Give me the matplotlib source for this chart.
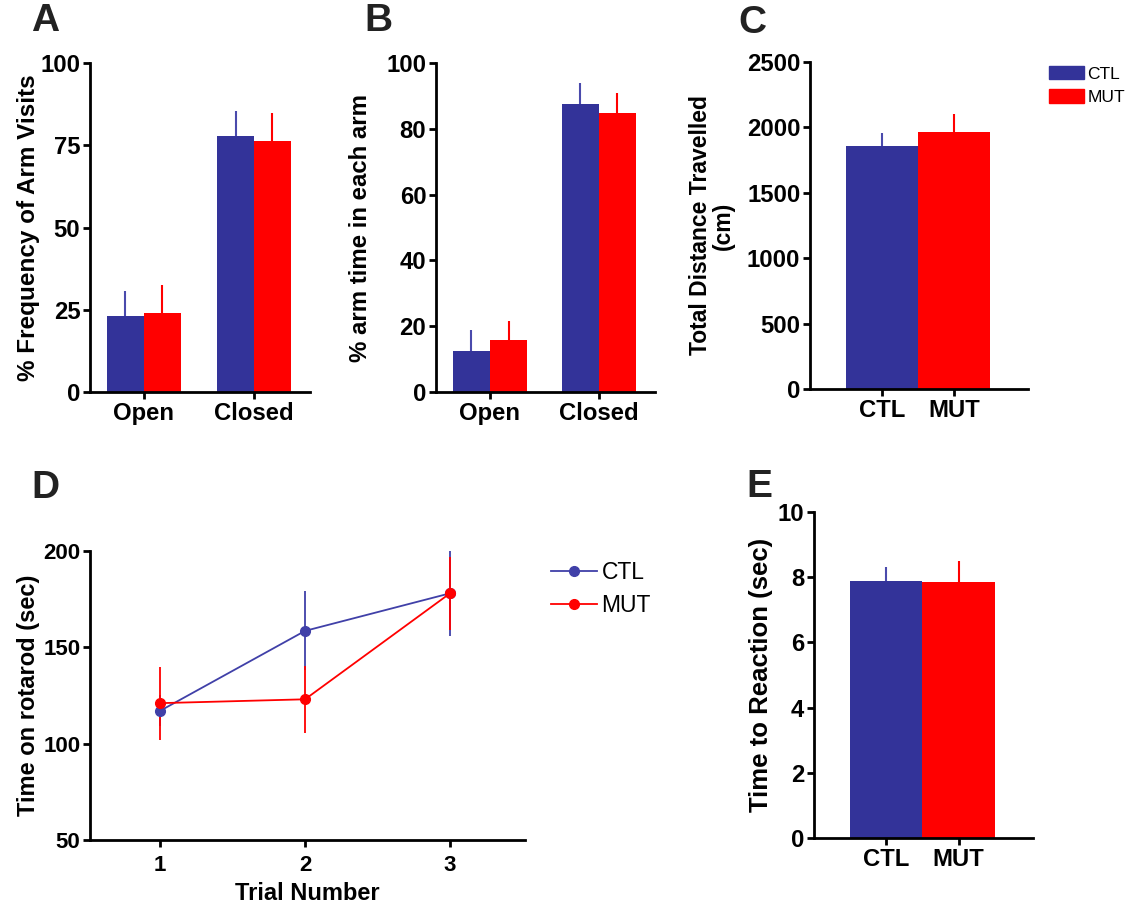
import numpy as np
import matplotlib.pyplot as plt
from matplotlib.patches import Patch
from matplotlib.lines import Line2D

plt.rcParams['font.family'] = ['Liberation Sans', 'DejaVu Sans']

BLUE = '#333399'
RED = '#ff0000'

# ---- data ----
groups = ['CTL', 'MUT']
arms = ['Open', 'Closed']

# A: % frequency of arm visits (mean, sem) per arm
freq_ctl = [23.0, 77.8]
freq_ctl_err = [7.7, 7.6]
freq_mut = [23.9, 76.4]
freq_mut_err = [8.6, 8.5]

# B: % arm time
time_ctl = [12.6, 87.6]
time_ctl_err = [6.4, 6.4]
time_mut = [15.7, 84.9]
time_mut_err = [6.0, 5.9]

# C: total distance travelled (cm)
dist = [1858, 1967]
dist_err = [97, 133]

# D: rotarod
trials = [1, 2, 3]
rot_ctl = [117, 158.5, 178]
rot_ctl_err = [8, 20.5, 22]
rot_mut = [121, 123, 178]
rot_mut_err = [19, 17.5, 19]

# E: reaction time
react = [7.89, 7.84]
react_err = [0.41, 0.66]

TICK_FS = 17.2


def style_axes(ax, fs=TICK_FS):
    for s in ['top', 'right']:
        ax.spines[s].set_visible(False)
    for s in ['left', 'bottom']:
        ax.spines[s].set_linewidth(2.0)
    ax.tick_params(axis='both', direction='out', length=5, width=2.0,
                   labelsize=fs, pad=2)
    for lab in ax.get_xticklabels() + ax.get_yticklabels():
        lab.set_fontweight('bold')


def grouped_bars(ax, ctl, ctl_err, mut, mut_err, width=0.335):
    x = np.arange(len(arms))
    ax.bar(x - width / 2, ctl, width, color=BLUE, zorder=2)
    ax.bar(x + width / 2, mut, width, color=RED, zorder=2)
    ax.errorbar(x - width / 2, ctl, yerr=[np.zeros(len(ctl)), ctl_err],
                fmt='none', ecolor='#4a4aac', elinewidth=1.5, capsize=0, zorder=1)
    ax.errorbar(x + width / 2, mut, yerr=[np.zeros(len(mut)), mut_err],
                fmt='none', ecolor=RED, elinewidth=1.5, capsize=0, zorder=1)
    ax.set_xticks(x)
    ax.set_xticklabels(arms)
    ax.set_xlim(-0.49, 1.51)


def pair_bars(ax, vals, errs):
    x = np.arange(len(groups))
    ax.bar(x, vals, 1.0, color=[BLUE, RED], zorder=2)
    for xi, v, e, c in zip(x, vals, errs, ['#4a4aac', RED]):
        ax.errorbar(xi, v, yerr=[[0], [e]], fmt='none', ecolor=c,
                    elinewidth=1.5, capsize=0, zorder=1)
    ax.set_xticks(x)
    ax.set_xticklabels(groups)
    ax.set_xlim(-1.0, 2.03)


fig = plt.figure(figsize=(11.25, 9.07), dpi=100)

# ---- A ----
axA = fig.add_axes([0.080, 0.5678, 0.1956, 0.3627])
grouped_bars(axA, freq_ctl, freq_ctl_err, freq_mut, freq_mut_err)
axA.set_ylim(0, 100)
axA.set_yticks([0, 25, 50, 75, 100])
style_axes(axA)
axA.set_ylabel('% Frequency of Arm Visits', fontsize=17.5, fontweight='bold')
axA.yaxis.set_label_coords(-0.227, 0.5)

# ---- B ----
axB = fig.add_axes([0.3876, 0.5678, 0.1947, 0.3627])
grouped_bars(axB, time_ctl, time_ctl_err, time_mut, time_mut_err, width=0.34)
axB.set_xlim(-0.495, 1.515)
axB.set_ylim(0, 100)
axB.set_yticks([0, 20, 40, 60, 80, 100])
style_axes(axB)
axB.set_ylabel('% arm time in each arm', fontsize=17.3, fontweight='bold')
axB.yaxis.set_label_coords(-0.292, 0.5)

# ---- C ----
axC = fig.add_axes([0.720, 0.5711, 0.1938, 0.3605])
pair_bars(axC, dist, dist_err)
axC.set_ylim(0, 2500)
axC.set_yticks([0, 500, 1000, 1500, 2000, 2500])
style_axes(axC)
axC.set_ylabel('Total Distance Travelled\n(cm)', fontsize=16.5, fontweight='bold',
               linespacing=1.0)
axC.yaxis.set_label_coords(-0.344, 0.5)
fig.legend(handles=[Patch(color=BLUE, label='CTL'), Patch(color=RED, label='MUT')],
           loc='upper left', bbox_to_anchor=(1049 / 1125, 1 - 66 / 907),
           frameon=False, fontsize=12.5, handlelength=2.0, handleheight=0.8,
           handletextpad=0.2, labelspacing=0.45, borderpad=0, borderaxespad=0)

# ---- D ----
axD = fig.add_axes([0.080, 0.0739, 0.3867, 0.3187])
axD.errorbar(trials, rot_ctl, yerr=rot_ctl_err, color='#4040a8', ecolor='#4040a8',
             lw=1.3, elinewidth=1.3, marker='o', markersize=7, capsize=0)
axD.errorbar(trials, rot_mut, yerr=rot_mut_err, color=RED, ecolor=RED,
             lw=1.3, elinewidth=1.3, marker='o', markersize=7, capsize=0)
axD.set_xlim(0.517, 3.517)
axD.set_ylim(50, 200)
axD.set_xticks(trials)
axD.set_yticks([50, 100, 150, 200])
style_axes(axD, fs=16)
axD.tick_params(axis='x', pad=6)
axD.set_ylabel('Time on rotarod (sec)', fontsize=17, fontweight='bold')
axD.yaxis.set_label_coords(-0.115, 0.5)
axD.set_xlabel('Trial Number', fontsize=17, fontweight='bold', labelpad=4)
fig.legend(handles=[Line2D([], [], color='#4040a8', marker='o', markersize=7, lw=1.3, label='CTL'),
                    Line2D([], [], color=RED, marker='o', markersize=7, lw=1.3, label='MUT')],
           loc='upper left', bbox_to_anchor=(551 / 1125, 1 - 561 / 907),
           frameon=False, fontsize=16.5, handlelength=2.0, handletextpad=0.2,
           labelspacing=0.45, borderpad=0, borderaxespad=0)

# ---- E ----
axE = fig.add_axes([0.7236, 0.0761, 0.1947, 0.3594])
pair_bars(axE, react, react_err)
axE.set_ylim(0, 10)
axE.set_yticks([0, 2, 4, 6, 8, 10])
style_axes(axE)
axE.set_ylabel('Time to Reaction (sec)', fontsize=18.5, fontweight='bold')
axE.yaxis.set_label_coords(-0.187, 0.5)

# panel letters
for letter, px, py in [('A', 45, 21), ('B', 378, 21), ('C', 752, 23),
                       ('D', 45, 488), ('E', 759, 487)]:
    fig.text(px / 1125, 1 - py / 907, letter, fontsize=28, fontweight='bold',
             ha='center', va='center', color='#222222')

fig.savefig('out.png', dpi=100)
